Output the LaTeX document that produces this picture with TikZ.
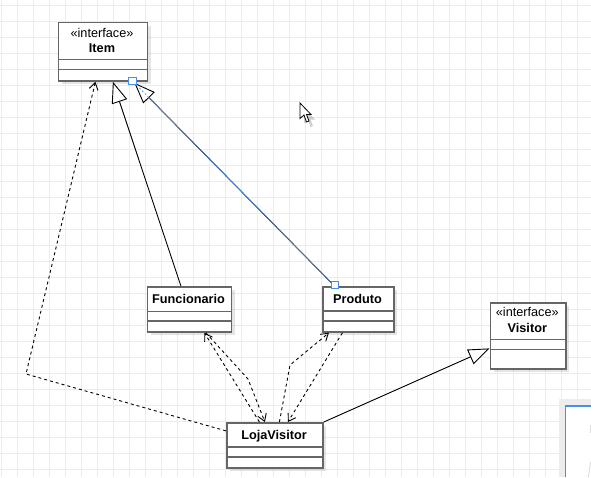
\documentclass[tikz,border=0pt]{standalone}
\usepackage{fontspec}
\setmainfont{Liberation Sans}
\usetikzlibrary{arrows.meta,calc,shadows}
\definecolor{gridc}{HTML}{EBEBEB}
\definecolor{boxc}{HTML}{666666}
\definecolor{selblue}{HTML}{4A8FE7}
\begin{document}
\begin{tikzpicture}[x=1pt,y=-1pt,
  cls/.style={draw=boxc, line width=1.8, fill=white, rectangle, inner sep=0pt, anchor=north west,
    drop shadow={shadow xshift=3.5pt, shadow yshift=-3.5pt, opacity=0.10, fill=black}},
  sep/.style={draw=boxc, line width=1.8},
  lbl/.style={font=\fontsize{12.7}{14.4}\selectfont, inner sep=0pt, anchor=base, text=black},
  lblb/.style={lbl, font=\fontsize{12.7}{14.4}\selectfont\bfseries},
  solidc/.style={draw=black, line width=0.9},
  dashc/.style={draw=black, line width=0.9, dash pattern=on 3pt off 3pt},
  gen/.style={-{Triangle[open, length=21pt, width=16pt, fill=white, line width=0.9pt]}},
  dep/.style={-{Straight Barb[length=7pt, width=9pt, line width=0.9pt]}},
  handle/.style={draw=selblue, fill=white, line width=0.8, minimum size=7.2pt, inner sep=0pt, rectangle}
]
\useasboundingbox (0,0) rectangle (591,477);
\fill[white] (0,0) rectangle (591,477);
% grid
\foreach \gx in {1.7,17.7,...,591} \draw[gridc, line width=1.3] (\gx,0) -- (\gx,477);
\foreach \gy in {5.7,21.7,...,477} \draw[gridc, line width=1.3] (0,\gy) -- (591,\gy);

% class boxes
\node[cls, minimum width=89pt, minimum height=58.5pt] (item) at (57.5,21.5) {};
\node[cls, minimum width=84pt, minimum height=45pt] (func) at (146.5,286) {};
\node[cls, minimum width=71pt, minimum height=45pt] (prod) at (322,286) {};
\node[cls, minimum width=75.5pt, minimum height=66pt] (visitor) at (489.5,302) {};
\node[cls, minimum width=96pt, minimum height=45pt] (loja) at (226,422) {};

% compartments
\draw[sep] ($(item.north west)+(0,38)$) -- ($(item.north east)+(0,38)$);
\draw[sep] ($(item.north west)+(0,48)$) -- ($(item.north east)+(0,48)$);
\draw[sep] ($(func.north west)+(0,25.5)$) -- ($(func.north east)+(0,25.5)$);
\draw[sep] ($(func.north west)+(0,35)$) -- ($(func.north east)+(0,35)$);
\draw[sep] ($(prod.north west)+(0,25)$) -- ($(prod.north east)+(0,25)$);
\draw[sep] ($(prod.north west)+(0,35)$) -- ($(prod.north east)+(0,35)$);
\draw[sep] ($(visitor.north west)+(0,37.5)$) -- ($(visitor.north east)+(0,37.5)$);
\draw[sep] ($(visitor.north west)+(0,47.5)$) -- ($(visitor.north east)+(0,47.5)$);
\draw[sep] ($(loja.north west)+(0,25)$) -- ($(loja.north east)+(0,25)$);
\draw[sep] ($(loja.north west)+(0,35)$) -- ($(loja.north east)+(0,35)$);

% labels
\node[lbl] (itemst) at (102,37.3) {«interface»};
\node[lblb] (itemname) at (102,52) {Item};
\node[lblb] (funcname) at (188.5,303) {Funcionario};
\node[lblb] (prodname) at (357.5,303) {Produto};
\node[lbl] (visst) at (527.3,316.7) {«interface»};
\node[lblb] (visname) at (527.3,332) {Visitor};
\node[lblb] (lojaname) at (274,439) {LojaVisitor};

% coordinates
\coordinate (bendA) at (26,374);
\coordinate (bendF) at (248,379);
\coordinate (bendP) at (290,365);
\coordinate (itemTipP) at ($(item.south east)+(-14,1)$);
\coordinate (prodTop) at ($(prod.north west)+(12.5,0)$);

% Funcionario -> Item (generalization)
\draw[solidc, gen] ($(func.north)+(-8.5,0)$) -- ($(item.south)+(10,0)$);
% Produto -> Item (generalization, selected)
\draw[solidc, gen] (prodTop) -- (itemTipP);
\draw[selblue, line width=0.6] (prodTop) -- ($(itemTipP)!21pt!(prodTop)$);
\draw[selblue, line width=0.6, dash pattern=on 2pt off 2pt] ($(itemTipP)!21pt!(prodTop)$) -- (itemTipP);
% LojaVisitor -> Item (dependency)
\draw[dashc, dep] ($(loja.west)+(0,-14.5)$) -- (bendA) -- ($(item.south)+(-7.5,0)$);
% LojaVisitor <-> Funcionario
\draw[dashc, dep] ($(loja.north)+(-15.5,0)$) -- ($(func.south)+(15,0)$);
\draw[dashc, dep] ($(func.south)+(16.5,0)$) -- (bendF) -- ($(loja.north)+(-10,0)$);
% LojaVisitor <-> Produto
\draw[dashc, dep] ($(loja.north)+(4.5,0)$) -- (bendP) -- ($(prod.south)+(-29.5,0)$);
\draw[dashc, dep] ($(prod.south)+(-16,0)$) -- ($(loja.north)+(13,0)$);
% LojaVisitor -> Visitor (realization)
\draw[solidc, gen] (loja.north east) -- ($(visitor.west)+(0,12.5)$);

% selection handles
\node[handle] (h1) at (132.3,81.2) {};
\node[handle] (h2) at (334.5,285.2) {};

% cursor
\begin{scope}[shift={(304,108)}]
  \fill[black, opacity=0.18] (0,0) -- (0,15.5) -- (4,12) -- (6.5,19) -- (9,18) -- (6.5,11.5) -- (11,11.5) -- cycle;
\end{scope}
\begin{scope}[shift={(300,103)}]
  \draw[black, fill=white, line width=0.8, line join=miter] (0,0) -- (0,15.5) -- (4,12) -- (6.5,19) -- (9,18) -- (6.5,11.5) -- (11,11.5) -- cycle;
\end{scope}

% partial panel bottom right
\fill[black!7] (559,399) rectangle (591,477);
\fill[white] (565.5,406) rectangle (591,477);
\draw[selblue, line width=1.3] (565.5,477) -- (565.5,406) -- (591,406);
\fill[black!12] (589.5,425) rectangle (591,433);
\draw[black!15, line width=0.8] (590.7,461.7) -- (588.3,477);
\end{tikzpicture}
\end{document}
